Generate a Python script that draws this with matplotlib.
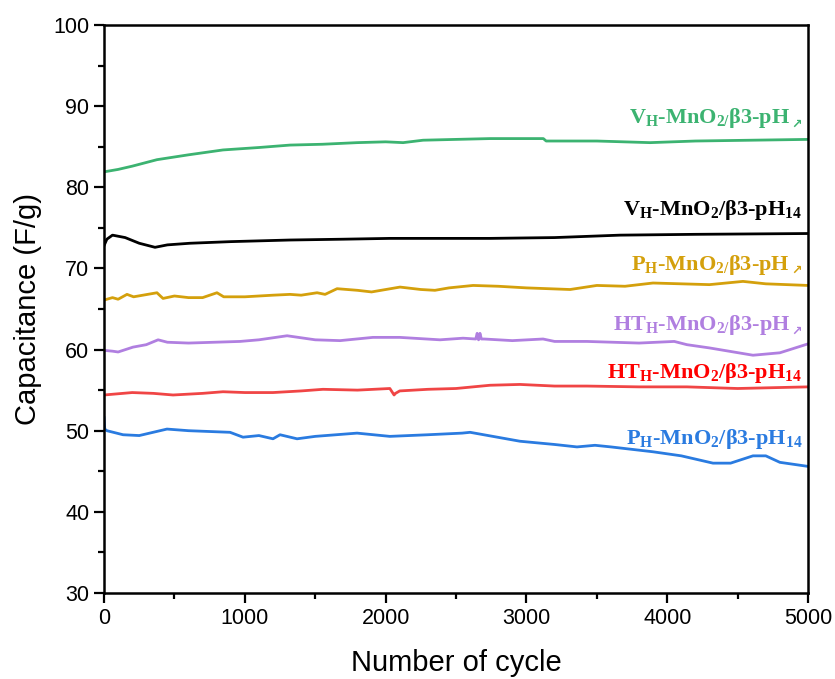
import matplotlib
matplotlib.use("Agg")
import matplotlib.pyplot as plt

plt.rcParams['font.family'] = ['Liberation Sans', 'DejaVu Sans']
plt.rcParams['mathtext.fontset'] = 'custom'
plt.rcParams['mathtext.rm'] = 'Liberation Serif:bold'
plt.rcParams['mathtext.it'] = 'Liberation Serif:bold'
plt.rcParams['mathtext.bf'] = 'Liberation Serif:bold'

# cycle / capacitance values
x_green = [0, 100, 200, 376, 600, 845, 1100, 1321, 1550, 1797, 2000, 2124, 2266, 2500, 2741, 3000, 3120, 3140, 3500, 3878, 4200, 4600, 5000]
y_green = [81.9, 82.2, 82.6, 83.4, 84.0, 84.6, 84.9, 85.2, 85.3, 85.5, 85.6, 85.5, 85.8, 85.9, 86.0, 86.0, 86.0, 85.7, 85.7, 85.5, 85.7, 85.8, 85.9]

x_black = [0, 20, 60, 150, 250, 362, 450, 610, 900, 1321, 1700, 2030, 2741, 3200, 3665, 4200, 5000]
y_black = [72.8, 73.6, 74.1, 73.8, 73.1, 72.6, 72.9, 73.1, 73.3, 73.5, 73.6, 73.7, 73.7, 73.8, 74.1, 74.2, 74.3]

x_gold = [0, 60, 100, 163, 210, 376, 400, 419, 500, 600, 700, 802, 850, 1000, 1200, 1321, 1400, 1513, 1570, 1655,
          1800, 1900, 2102, 2250, 2350, 2450, 2621, 2800, 3000, 3310, 3500, 3700, 3899, 4100, 4300, 4538, 4700, 5000]
y_gold = [66.1, 66.4, 66.2, 66.8, 66.5, 67.0, 66.6, 66.3, 66.6, 66.4, 66.4, 67.0, 66.5, 66.5, 66.7, 66.8, 66.7, 67.0, 66.8, 67.5,
          67.3, 67.1, 67.7, 67.4, 67.3, 67.6, 67.9, 67.8, 67.6, 67.4, 67.9, 67.8, 68.2, 68.1, 68.0, 68.4, 68.1, 67.9]

x_purple = [0, 60, 100, 206, 300, 384, 450, 600, 966, 1100, 1300, 1500, 1676, 1910, 2100, 2386, 2550, 2640, 2650, 2660,
            2670, 2680, 2700, 2900, 3118, 3200, 3430, 3800, 4050, 4140, 4300, 4609, 4800, 5000]
y_purple = [59.9, 59.8, 59.7, 60.3, 60.6, 61.2, 60.9, 60.8, 61.0, 61.2, 61.7, 61.2, 61.1, 61.5, 61.5, 61.2, 61.4, 61.3, 62.0, 61.2,
            62.0, 61.3, 61.3, 61.1, 61.3, 61.0, 61.0, 60.8, 61.0, 60.6, 60.2, 59.3, 59.6, 60.7]

x_red = [0, 200, 350, 490, 700, 845, 1000, 1200, 1400, 1555, 1800, 2030, 2060, 2070, 2100, 2300, 2500, 2741, 2954, 3200,
         3430, 3800, 4140, 4500, 5000]
y_red = [54.4, 54.7, 54.6, 54.4, 54.6, 54.8, 54.7, 54.7, 54.9, 55.1, 55.0, 55.2, 54.4, 54.6, 54.9, 55.1, 55.2, 55.6, 55.7, 55.5,
         55.5, 55.4, 55.4, 55.2, 55.4]

x_blue = [0, 5, 20, 135, 250, 447, 600, 895, 987, 1100, 1200, 1250, 1371, 1500, 1797, 2030, 2300, 2543, 2600, 2954,
          3200, 3359, 3487, 3600, 3899, 4100, 4325, 4450, 4609, 4700, 4800, 5000]
y_blue = [51.6, 50.2, 50.0, 49.5, 49.4, 50.2, 50.0, 49.8, 49.2, 49.4, 49.0, 49.5, 49.0, 49.3, 49.7, 49.3, 49.5, 49.7, 49.8, 48.7,
          48.3, 48.0, 48.2, 48.0, 47.4, 46.9, 46.0, 46.0, 46.9, 46.9, 46.1, 45.6]

labels = [r'V$_{\mathrm{H}}$-MnO$_{\mathrm{2/}}$β3-pH',
          r'V$_{\mathrm{H}}$-MnO$_{\mathrm{2}}$/β3-pH$_{\mathrm{14}}$',
          r'P$_{\mathrm{H}}$-MnO$_{\mathrm{2/}}$β3-pH',
          r'HT$_{\mathrm{H}}$-MnO$_{\mathrm{2/}}$β3-pH',
          r'HT$_{\mathrm{H}}$-MnO$_{\mathrm{2}}$/β3-pH$_{\mathrm{14}}$',
          r'P$_{\mathrm{H}}$-MnO$_{\mathrm{2}}$/β3-pH$_{\mathrm{14}}$']
has_arrow = [True, False, True, True, False, False]
label_y = [87.9, 76.6, 69.8, 62.4, 56.5, 48.4]

line_colors = ['#3cb371', '#000000', '#d4a00c', '#b07fe0', '#f04545', '#2a7be0']
text_colors = ['#3cb371', '#000000', '#d4a00c', '#b07fe0', '#ff0000', '#2a7be0']

fig = plt.figure(figsize=(8.35, 6.79), dpi=100)
ax = fig.add_axes([0.1246, 0.1267, 0.8431, 0.8365])

xs = [x_green, x_black, x_gold, x_purple, x_red, x_blue]
ys = [y_green, y_black, y_gold, y_purple, y_red, y_blue]
for x, y, c in zip(xs, ys, line_colors):
    ax.plot(x, y, color=c, lw=2.0)

for lab, arr, ly, c in zip(labels, has_arrow, label_y, text_colors):
    shift = 0
    if arr:
        ax.annotate('↗', xy=(4955, ly), xytext=(0, -3), textcoords='offset points',
                    ha='right', va='baseline', color=c, fontsize=9,
                    family='DejaVu Sans', weight='bold')
        shift = -9
    ax.annotate(lab, xy=(4960, ly), xytext=(shift, 0), textcoords='offset points',
                ha='right', va='baseline', color=c, fontsize=16,
                family='Liberation Serif', weight='bold')

ax.set_xlim(0, 5000)
ax.set_ylim(30, 100)
ax.set_xticks([0, 1000, 2000, 3000, 4000, 5000])
ax.set_xticks([500, 1500, 2500, 3500, 4500], minor=True)
ax.set_yticks([30, 40, 50, 60, 70, 80, 90, 100])
ax.set_yticks([35, 45, 55, 65, 75, 85, 95], minor=True)
ax.tick_params(which='major', direction='out', length=7, width=1.6, labelsize=15.5)
ax.tick_params(which='minor', direction='out', length=4, width=1.6)
for s in ax.spines.values():
    s.set_linewidth(1.8)

ax.set_xlabel('Number of cycle', fontsize=21, labelpad=15)
ax.set_ylabel('Capacitance (F/g)', fontsize=21, labelpad=8)

plt.savefig('out.png', dpi=100)
